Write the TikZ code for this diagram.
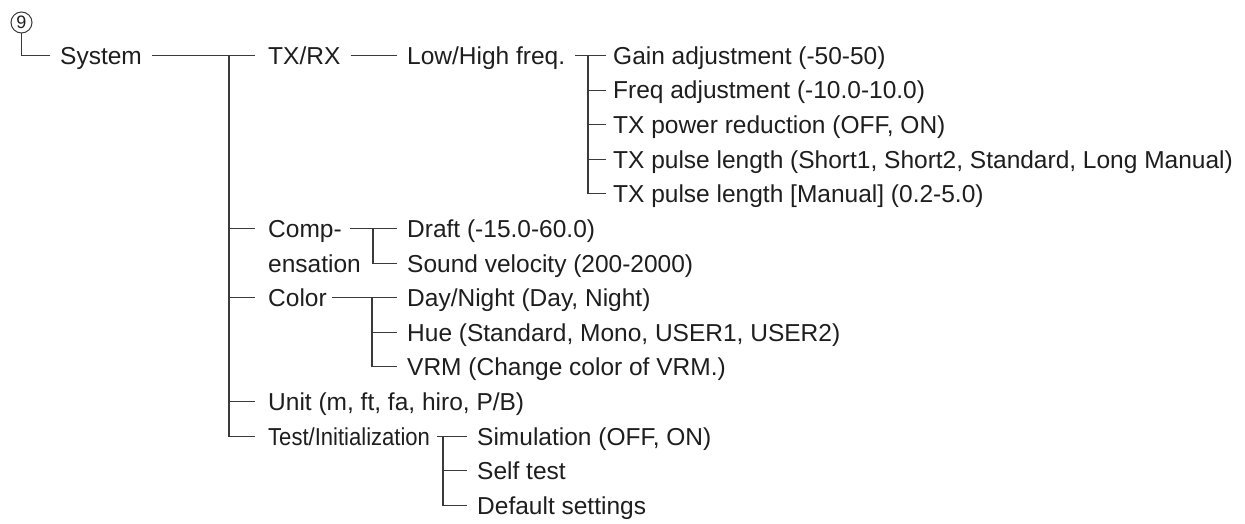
\documentclass[tikz,border=0pt]{standalone}
\usepackage{fontspec}
\setmainfont{Liberation Sans}
\usepackage{graphicx}
\definecolor{lncol}{HTML}{3A3A3A}
\definecolor{txt}{HTML}{1E1E1E}
\tikzset{
  lbl/.style={anchor=west, inner xsep=0pt, inner ysep=0pt, text height=17.8pt, text depth=0pt,
              font=\fontsize{24.5}{28}\selectfont, text=txt},
  ln/.style={draw=lncol, line width=1.1pt},
}
\begin{document}
\begin{tikzpicture}[x=1pt, y=-1pt]
\useasboundingbox (0,0) rectangle (1245,524);
% labels
\node[circle, draw=lncol, line width=1pt, minimum size=21pt, inner sep=0pt,
      font=\fontsize{18}{18}\selectfont, text=txt] (nine) at (21.5,22.5) {9};
\node[lbl] (sys)   at (60,55.5)   {System};
\node[lbl] (txrx)  at (268,55.5)  {TX/RX};
\node[lbl] (lh)    at (407,55.5)  {Low/High freq.};
\node[lbl] (gain)  at (613,55.5)  {Gain adjustment (-50-50)};
\node[lbl] (freq)  at (613,90.1)  {Freq adjustment (-10.0-10.0)};
\node[lbl] (pwr)   at (613,124.7) {TX power reduction (OFF, ON)};
\node[lbl] (pulse) at (613,159.3) {TX pulse length (Short1, Short2, Standard, Long Manual)};
\node[lbl] (pman)  at (613,193.9) {TX pulse length [Manual] (0.2-5.0)};
\node[lbl] (comp)  at (268,228.5) {Comp-};
\node[lbl] (ens)   at (268,263.1) {ensation};
\node[lbl] (draft) at (407,228.5) {Draft (-15.0-60.0)};
\node[lbl] (sound) at (407,263.1) {Sound velocity (200-2000)};
\node[lbl] (color) at (268,297.7) {Color};
\node[lbl] (day)   at (407,297.7) {Day/Night (Day, Night)};
\node[lbl] (hue)   at (407,332.3) {Hue (Standard, Mono, USER1, USER2)};
\node[lbl] (vrm)   at (407,366.9) {VRM (Change color of VRM.)};
\node[lbl] (unit)  at (268,401.5) {Unit (m, ft, fa, hiro, P/B)};
\node[lbl] (test)  at (268,436.1) {\scalebox{0.9}[1]{Test/Initialization}};
\node[lbl] (sim)   at (477,436.1) {Simulation (OFF, ON)};
\node[lbl] (self)  at (477,470.7) {Self test};
\node[lbl] (def)   at (477,505.3) {Default settings};
% connectors
\draw[ln] (nine.south) |- ([xshift=-10pt]sys.west);
\draw[ln] ([xshift=10pt]sys.east) -- ([xshift=-13pt]txrx.west);
\coordinate (T) at (229,55.5);
\draw[ln] (T) |- ([xshift=-13pt]test.west);
\foreach \n in {comp,color,unit}
  \draw[ln] (T |- \n.west) -- ([xshift=-13pt]\n.west);
\draw[ln] ([xshift=10pt]txrx.east) -- ([xshift=-10pt]lh.west);
\draw[ln] ([xshift=10pt]lh.east) -- ([xshift=-7pt]gain.west);
\coordinate (L) at (588,55.5);
\draw[ln] (L) |- ([xshift=-7pt]pman.west);
\foreach \n in {freq,pwr,pulse}
  \draw[ln] (L |- \n.west) -- ([xshift=-7pt]\n.west);
\draw[ln] ([xshift=8pt]comp.east) -- ([xshift=-10pt]draft.west);
\coordinate (C) at (373,228.5);
\draw[ln] (C) |- ([xshift=-10pt]sound.west);
\draw[ln] ([xshift=5pt]color.east) -- ([xshift=-10pt]day.west);
\coordinate (K) at (372,297.7);
\draw[ln] (K) |- ([xshift=-10pt]vrm.west);
\draw[ln] (K |- hue.west) -- ([xshift=-10pt]hue.west);
\draw[ln] ([xshift=7pt]test.east) -- ([xshift=-10pt]sim.west);
\coordinate (S) at (443,436.1);
\draw[ln] (S) |- ([xshift=-10pt]def.west);
\draw[ln] (S |- self.west) -- ([xshift=-10pt]self.west);
\end{tikzpicture}
\end{document}
